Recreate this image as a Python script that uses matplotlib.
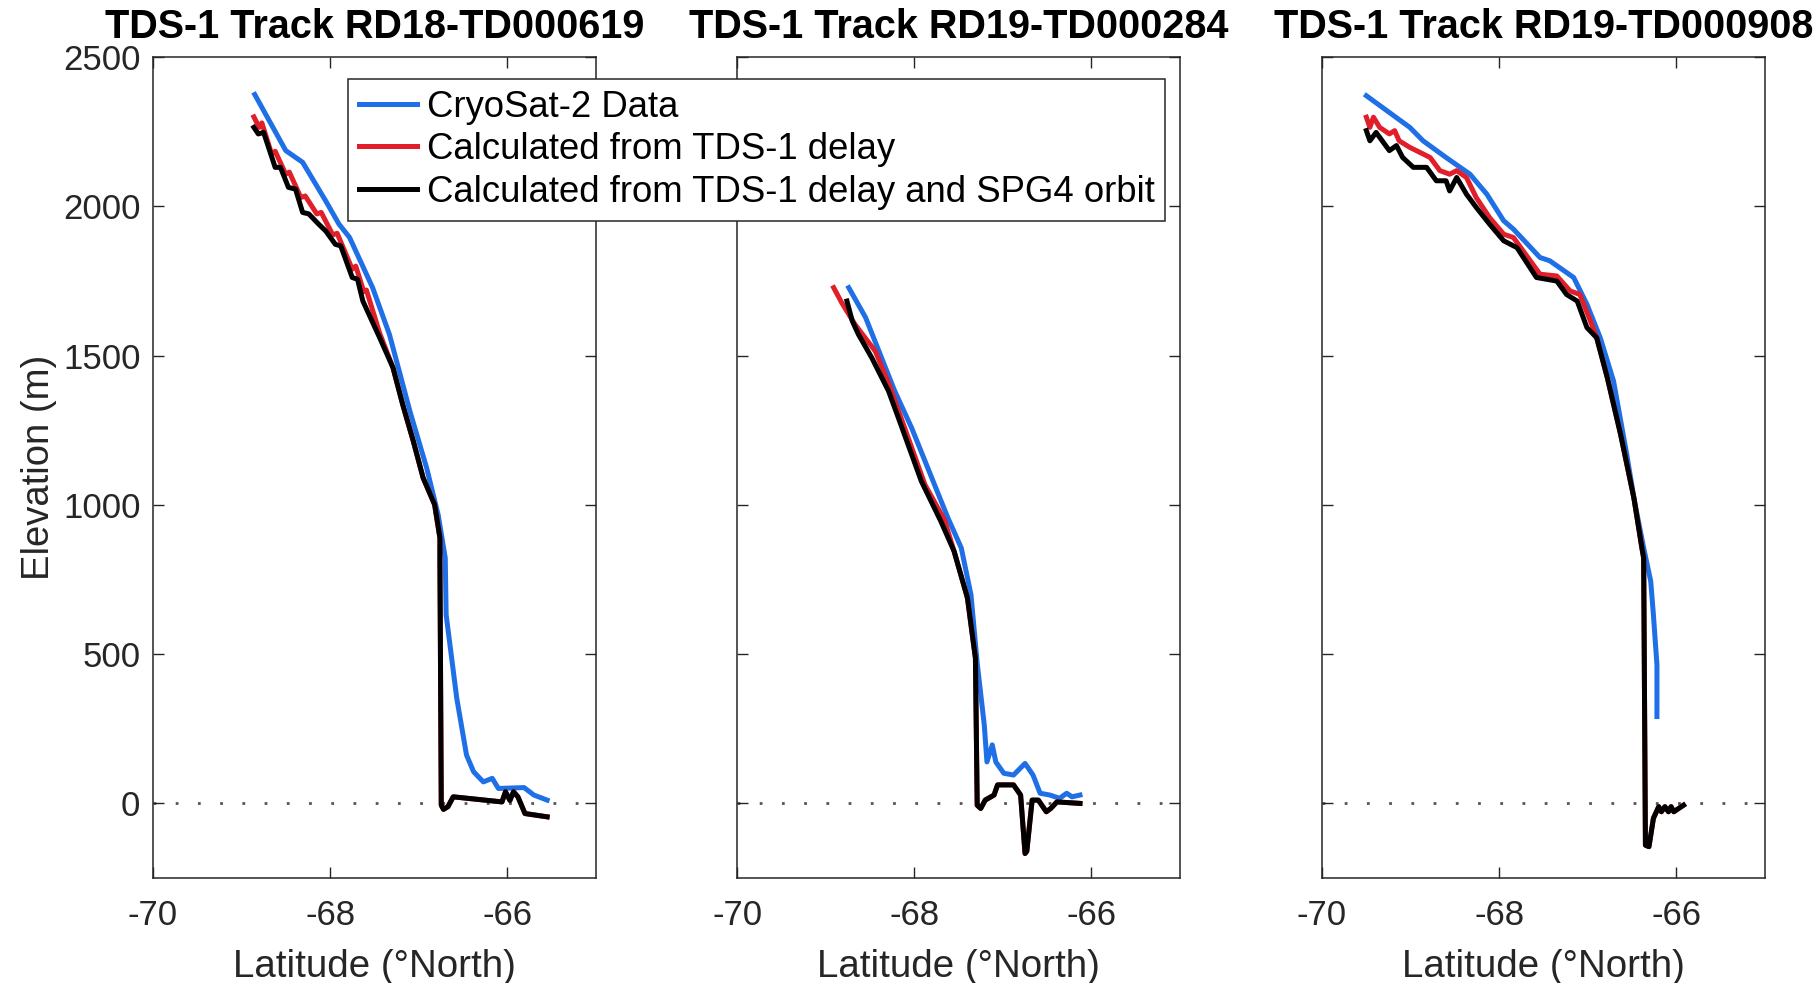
import matplotlib
matplotlib.use("Agg")
import matplotlib.pyplot as plt

plt.rcParams['font.family'] = ['Liberation Sans', 'DejaVu Sans']

# panel titles
titles = ["TDS-1 Track RD18-TD000619", "TDS-1 Track RD19-TD000284", "TDS-1 Track RD19-TD000908"]
series_names = ["CryoSat-2 Data", "Calculated from TDS-1 delay",
                "Calculated from TDS-1 delay and SPG4 orbit"]

# --- track 1 ---
cs_lat_1 = [-68.85, -68.50, -68.31, -68.05, -67.90, -67.78, -67.52, -67.33, -67.22, -67.10, -66.91,
            -66.78, -66.70, -66.69, -66.57, -66.46, -66.38, -66.27, -66.17, -66.10, -65.81, -65.70, -65.55]
cs_elev_1 = [2375, 2187, 2148, 2019, 1941, 1896, 1728, 1571, 1449, 1315, 1124,
             967, 822, 632, 352, 162, 106, 72, 84, 50, 53, 28, 11]
td_lat_1 = [-68.86, -68.80, -68.77, -68.66, -68.62, -68.50, -68.46, -68.33, -68.28, -68.15, -68.10,
            -67.97, -67.92, -67.75, -67.71, -67.62, -67.59, -67.44, -67.29,
            -67.18, -67.06, -66.95, -66.82, -66.76, -66.76, -66.745, -66.72, -66.67, -66.61, -66.06,
            -66.02, -65.97, -65.93, -65.88, -65.80, -65.55]
td_elev_1 = [2300, 2265, 2280, 2176, 2185, 2108, 2115, 2030, 2035, 1975, 1980,
             1905, 1910, 1790, 1800, 1715, 1720, 1575, 1460,
             1336, 1213, 1091, 1001, 889, 812, -6, -20, -11, 22, 5,
             39, 10, 39, 22, -34, -45]
sgp_lat_1 = [-68.86, -68.81, -68.75, -68.62, -68.56, -68.47, -68.39, -68.31, -68.24, -68.13, -68.05,
             -67.94, -67.88, -67.75, -67.69, -67.63, -67.44, -67.29,
             -67.18, -67.06, -66.95, -66.82, -66.76, -66.76, -66.745, -66.72, -66.67, -66.61, -66.06,
             -66.02, -65.97, -65.93, -65.88, -65.80, -65.55]
sgp_elev_1 = [2265, 2243, 2248, 2131, 2131, 2064, 2058, 1980, 1975, 1941, 1918,
              1873, 1868, 1762, 1756, 1683, 1560, 1460,
              1336, 1213, 1091, 1001, 889, 812, -6, -20, -11, 22, 5,
              39, 10, 39, 22, -34, -45]

# --- track 2 ---
cs_lat_2 = [-68.74, -68.55, -68.22, -68.03, -67.62, -67.47, -67.36, -67.29, -67.21, -67.18, -67.12,
            -67.08, -66.99, -66.88, -66.75, -66.66, -66.58, -66.47, -66.36, -66.28, -66.22, -66.13]
cs_elev_2 = [1728, 1628, 1381, 1258, 956, 856, 699, 470, 262, 139, 196,
             139, 101, 95, 134, 95, 34, 28, 17, 34, 22, 28]
td_lat_2 = [-68.91, -68.82, -68.67, -68.44, -68.27, -67.88, -67.66, -67.55, -67.40, -67.33, -67.31,
            -67.29, -67.25, -67.20, -67.10, -67.06, -66.88, -66.80, -66.75, -66.73, -66.67, -66.60,
            -66.51, -66.46, -66.39, -66.13]
td_elev_2 = [1728, 1678, 1605, 1515, 1392, 1068, 950, 844, 688, 531, 487,
             -6, -17, 11, 28, 62, 62, 28, -168, -160, 11, 11,
             -28, -17, 5, 0]
sgp_lat_2 = [-68.76, -68.70, -68.63, -68.48, -68.29, -68.18, -67.92, -67.70, -67.55, -67.40, -67.33,
             -67.31, -67.29, -67.25, -67.20, -67.10, -67.06, -66.88, -66.80, -66.75, -66.73, -66.67,
             -66.60, -66.51, -66.46, -66.39, -66.13]
sgp_elev_2 = [1683, 1616, 1571, 1493, 1381, 1292, 1079, 945, 844, 688, 531,
              487, -6, -17, 11, 28, 62, 62, 28, -168, -160, 11,
              11, -28, -17, 5, 0]

# --- track 3 ---
cs_lat_3 = [-69.50, -69.01, -68.86, -68.60, -68.33, -68.14, -67.95, -67.84, -67.54, -67.43, -67.16,
            -67.01, -66.86, -66.71, -66.56, -66.48, -66.37, -66.29, -66.26, -66.22, -66.22]
cs_elev_3 = [2371, 2265, 2220, 2164, 2108, 2041, 1952, 1924, 1829, 1818, 1762,
             1672, 1560, 1415, 1168, 1023, 856, 744, 632, 464, 291]
td_lat_3 = [-69.50, -69.46, -69.42, -69.35, -69.24, -69.18, -69.13, -69.01, -68.78, -68.67, -68.56,
            -68.48, -68.37, -68.26, -68.11, -67.95, -67.84, -67.54, -67.35, -67.20, -67.09, -66.97,
            -66.90, -66.78, -66.63, -66.48, -66.39, -66.37, -66.35, -66.31, -66.26, -66.20, -66.17,
            -66.13, -66.09, -66.06, -66.03, -65.92]
td_elev_3 = [2299, 2265, 2299, 2265, 2243, 2254, 2220, 2198, 2164, 2120, 2108,
             2120, 2097, 2030, 1963, 1907, 1896, 1773, 1767, 1717, 1705, 1616,
             1560, 1426, 1236, 1023, 856, 822, -140, -145, -50, -11, -28,
             -11, -28, -11, -28, -6]
sgp_lat_3 = [-69.50, -69.46, -69.39, -69.24, -69.16, -69.09, -68.97, -68.82, -68.71, -68.60, -68.56,
             -68.48, -68.37, -68.26, -68.11, -67.95, -67.80, -67.58, -67.35, -67.24, -67.12, -67.01,
             -66.90, -66.78, -66.63, -66.48, -66.39, -66.37, -66.35, -66.31, -66.26, -66.20, -66.17,
             -66.13, -66.09, -66.06, -66.03, -65.92]
sgp_elev_3 = [2254, 2220, 2248, 2187, 2204, 2164, 2131, 2131, 2086, 2086, 2052,
              2097, 2041, 1997, 1941, 1885, 1862, 1762, 1750, 1705, 1683, 1594,
              1560, 1426, 1236, 1023, 856, 822, -140, -145, -50, -11, -28,
              -11, -28, -11, -28, -6]

tracks = [
    (cs_lat_1, cs_elev_1, td_lat_1, td_elev_1, sgp_lat_1, sgp_elev_1),
    (cs_lat_2, cs_elev_2, td_lat_2, td_elev_2, sgp_lat_2, sgp_elev_2),
    (cs_lat_3, cs_elev_3, td_lat_3, td_elev_3, sgp_lat_3, sgp_elev_3),
]

x_ticks = [-70, -68, -66]
y_ticks = [0, 500, 1000, 1500, 2000, 2500]

BLUE = '#1f6fe6'
RED = '#e01f2a'
AXC = '#262626'

fig = plt.figure(figsize=(18.2, 9.83), dpi=100)
lefts = [0.084, 0.405, 0.7264]
handles = None
for i, (left, tr) in enumerate(zip(lefts, tracks)):
    ax = fig.add_axes([left, 0.1068, 0.2434, 0.835])
    ax.axhline(0, color='#555555', lw=2, linestyle=(0, (1, 7)), zorder=1)
    h1, = ax.plot(tr[0], tr[1], color=BLUE, lw=3.6, zorder=2)
    h2, = ax.plot(tr[2], tr[3], color=RED, lw=3.6, zorder=3)
    h3, = ax.plot(tr[4], tr[5], color='black', lw=3.6, zorder=4)
    if handles is None:
        handles = [h1, h2, h3]
    ax.set_xlim(-70, -65)
    ax.set_ylim(-250, 2500)
    ax.set_xticks(x_ticks)
    ax.set_xticklabels([str(t) for t in x_ticks])
    ax.set_yticks(y_ticks)
    ax.tick_params(direction='in', length=8, width=1, colors=AXC, labelsize=25,
                   top=True, right=True)
    ax.tick_params(axis='x', pad=15)
    ax.tick_params(axis='y', pad=9)
    for s in ax.spines.values():
        s.set_color(AXC)
        s.set_linewidth(1.1)
    if i == 0:
        ax.set_yticklabels([str(t) for t in y_ticks])
        ax.set_ylabel("Elevation (m)", fontsize=27.5, color=AXC, labelpad=4)
    else:
        ax.set_yticklabels([])
    ax.set_xlabel("Latitude (\u00b0North)", fontsize=27.7, color=AXC, labelpad=12)
    ax.set_title(titles[i], fontsize=28.5, fontweight='bold', pad=14)

leg = fig.legend(handles, series_names, loc='upper left',
                 bbox_to_anchor=(348 / 1820, 1 - 79 / 983), borderaxespad=0,
                 fontsize=26.3, frameon=True, fancybox=False, framealpha=1,
                 edgecolor=AXC, handlelength=1.6, handletextpad=0.25,
                 borderpad=0.3, labelspacing=0.2)
leg.get_frame().set_linewidth(1.1)

fig.savefig("out.png", dpi=100)
